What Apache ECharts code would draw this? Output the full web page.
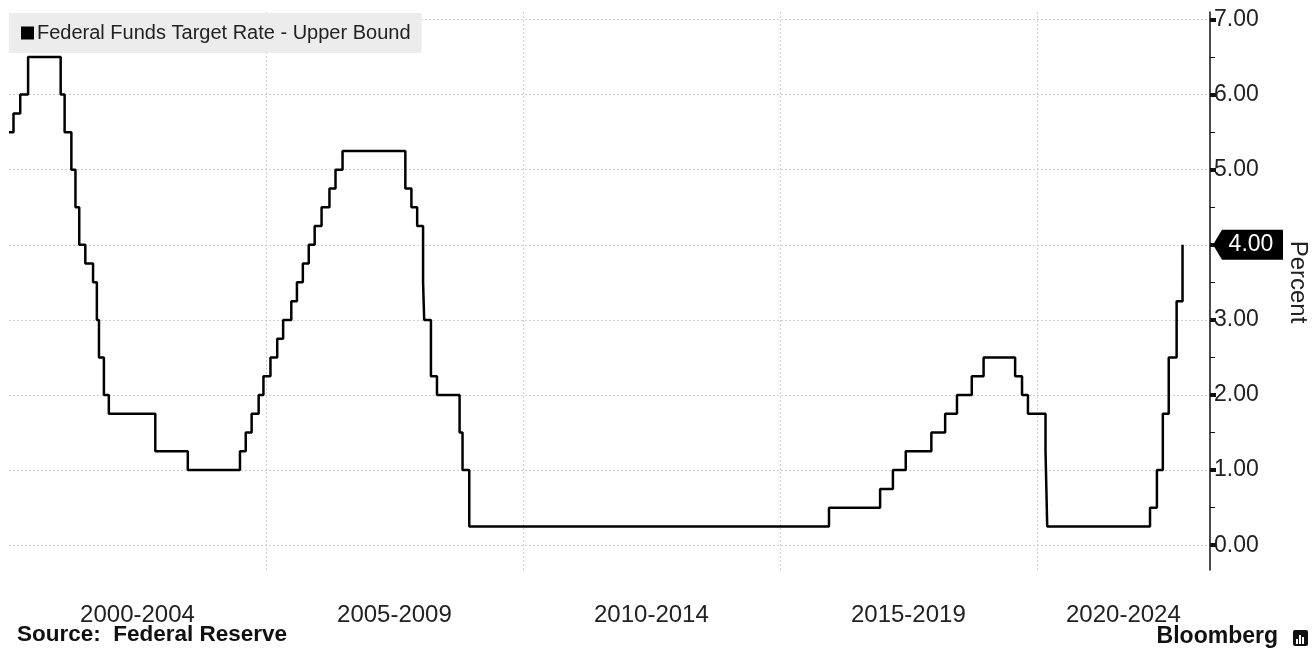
<!DOCTYPE html>
<html>
<head>
	<meta charset="utf-8">
	<title>Federal Funds Target Rate</title>
	<script src="https://cdn.jsdelivr.net/npm/echarts@6/dist/echarts.min.js"></script>
	<style type="text/css">
		html, body { margin: 0; padding: 0; background: #fff; }
		#chartContainer { width: 1312px; height: 652px; }
	</style>
</head>
<body>
	<div id="chartContainer"></div>
	<script type="text/javascript">
		// dates where the upper bound changed, and the rate from that date on
		var changeDates = [
			'2000-01-01', '2000-02-02', '2000-03-21', '2000-05-16',
			'2001-01-03', '2001-01-31', '2001-03-20', '2001-04-18', '2001-05-15',
			'2001-06-27', '2001-08-21', '2001-09-17', '2001-10-02', '2001-11-06',
			'2001-12-11', '2002-11-06', '2003-06-25',
			'2004-06-30', '2004-08-10', '2004-09-21', '2004-11-10', '2004-12-14',
			'2005-02-02', '2005-03-22', '2005-05-03', '2005-06-30', '2005-08-09',
			'2005-09-20', '2005-11-01', '2005-12-13', '2006-01-31', '2006-03-28',
			'2006-05-10', '2006-06-29',
			'2007-09-18', '2007-10-31', '2007-12-11', '2008-01-22', '2008-01-30',
			'2008-03-18', '2008-04-30', '2008-10-08', '2008-10-29', '2008-12-16',
			'2015-12-16', '2016-12-14', '2017-03-15', '2017-06-14', '2017-12-13',
			'2018-03-21', '2018-06-13', '2018-09-26', '2018-12-19',
			'2019-07-31', '2019-09-18', '2019-10-30', '2020-03-03', '2020-03-15',
			'2022-03-16', '2022-05-04', '2022-06-15', '2022-07-27', '2022-09-21',
			'2022-11-02'
		];
		var upperBound = [
			5.50, 5.75, 6.00, 6.50,
			6.00, 5.50, 5.00, 4.50, 4.00,
			3.75, 3.50, 3.00, 2.50, 2.00,
			1.75, 1.25, 1.00,
			1.25, 1.50, 1.75, 2.00, 2.25,
			2.50, 2.75, 3.00, 3.25, 3.50,
			3.75, 4.00, 4.25, 4.50, 4.75,
			5.00, 5.25,
			4.75, 4.50, 4.25, 3.50, 3.00,
			2.25, 2.00, 1.50, 1.00, 0.25,
			0.50, 0.75, 1.00, 1.25, 1.50,
			1.75, 2.00, 2.25, 2.50,
			2.25, 2.00, 1.75, 1.25, 0.25,
			0.50, 1.00, 1.75, 2.50, 3.25,
			4.00
		];
		var bandLabels = ['2000-2004', '2005-2009', '2010-2014', '2015-2019', '2020-2024'];
		var bandStarts = [2000, 2005, 2010, 2015, 2020];
		var yLabelValues = [0, 1, 2, 3, 4, 5, 6, 7];
		var yMinorValues = [0.5, 1.5, 2.5, 3.5, 4.5, 5.5, 6.5];

		var xMin = 2000, xMax = 2023.37;
		var yMin = -0.33, yMax = 7.1;

		function toYear(s) {
			var d = new Date(s + 'T00:00:00Z');
			var y = d.getUTCFullYear();
			var a = Date.UTC(y, 0, 1), b = Date.UTC(y + 1, 0, 1);
			return y + (d.getTime() - a) / (b - a);
		}

		var lineData = changeDates.map(function (s, i) { return [toYear(s), upperBound[i]]; });
		var bandCenters = bandStarts.map(function (s) { return (s + Math.min(s + 5, xMax)) / 2; });
		var lastRate = upperBound[upperBound.length - 1];
		var FONT = 'Liberation Sans';

		var myChart = echarts.init(document.getElementById('chartContainer'));
		var option = {
			backgroundColor: '#ffffff',
			animation: false,
			textStyle: { fontFamily: FONT },
			title: [
				{
					text: 'Source:  Federal Reserve',
					left: 12, bottom: 1,
					textStyle: { fontSize: 22.5, fontWeight: 'bold', color: '#111', fontFamily: FONT }
				},
				{
					text: 'Bloomberg',
					right: 29, bottom: -1,
					textStyle: { fontSize: 23, fontWeight: 'bold', color: '#111', fontFamily: FONT }
				}
			],
			graphic: [
				{ type: 'rect', left: 1293, top: 630, shape: { width: 15, height: 16, r: 2 }, style: { fill: '#111' } },
				{ type: 'rect', left: 1296, top: 639, shape: { width: 2, height: 5 }, style: { fill: '#fff' } },
				{ type: 'rect', left: 1299, top: 635, shape: { width: 2, height: 9 }, style: { fill: '#fff' } },
				{ type: 'rect', left: 1302, top: 637, shape: { width: 2, height: 7 }, style: { fill: '#fff' } }
			],
			legend: {
				left: 9, top: 13,
				backgroundColor: '#ececec',
				padding: [10, 11, 10, 12],
				icon: 'rect',
				itemWidth: 13, itemHeight: 13, itemGap: 4,
				textStyle: { fontSize: 20, color: '#222', fontFamily: FONT, padding: [0, 0, 0, -2] },
				data: ['Federal Funds Target Rate - Upper Bound']
			},
			grid: { left: 9, right: 102, top: 12, bottom: 82, outerBoundsMode: 'none', containLabel: false },
			xAxis: [
				{
					type: 'value', min: xMin, max: xMax, interval: 5,
					position: 'bottom',
					axisLine: { show: false }, axisTick: { show: false }, axisLabel: { show: false },
					splitLine: { show: true, showMinLine: false, showMaxLine: false, lineStyle: { color: '#cfcfcf', type: [2, 2], width: 1 } }
				},
				{
					type: 'value', min: xMin, max: xMax,
					position: 'bottom',
					axisLine: { show: false }, axisTick: { show: false }, splitLine: { show: false },
					axisLabel: {
						customValues: bandCenters,
						margin: 33,
						fontSize: 24, color: '#222', fontFamily: FONT,
						formatter: function (v) {
							for (var i = 0; i < bandCenters.length; i++) {
								if (Math.abs(bandCenters[i] - v) < 0.01) return bandLabels[i];
							}
							return '';
						}
					}
				}
			],
			yAxis: [
				{
					type: 'value', min: yMin, max: yMax, position: 'right',
					name: 'Percent', nameLocation: 'middle', nameRotate: -90, nameGap: 76,
					nameTextStyle: { fontSize: 24, color: '#222', fontFamily: FONT, padding: [0, 18, 0, 0] },
					axisLine: { show: true, lineStyle: { color: '#111', width: 1.5 } },
					axisTick: { show: true, customValues: yLabelValues, length: 6, inside: false, lineStyle: { color: '#111', width: 4 } },
					axisLabel: {
						customValues: yLabelValues, margin: 4,
						fontSize: 23, color: '#222', fontFamily: FONT,
						formatter: function (v) { return v.toFixed(2); }
					},
					splitLine: { show: true, lineStyle: { color: '#cfcfcf', type: [2, 2], width: 1 } }
				},
				{
					type: 'value', min: yMin, max: yMax, position: 'right',
					axisLine: { show: false },
					axisTick: { show: true, customValues: yMinorValues, length: 5, inside: false, lineStyle: { color: '#111', width: 1 } },
					axisLabel: { show: false },
					splitLine: { show: false }
				}
			],
			series: [
				{
					name: 'Federal Funds Target Rate - Upper Bound',
					type: 'line',
					step: 'end',
					xAxisIndex: 0, yAxisIndex: 0,
					showSymbol: false, symbol: 'none',
					color: '#000',
					lineStyle: { color: '#000', width: 2.5 },
					data: lineData,
					markPoint: {
						silent: true,
						symbol: 'path://M0,15 L9,0 L70,0 L70,30 L9,30 Z',
						symbolSize: [70, 30],
						symbolOffset: [38, 0],
						symbolKeepAspect: false,
						itemStyle: { color: '#000' },
						label: {
							show: true, position: 'inside', offset: [3, 0],
							color: '#fff', fontSize: 23, fontFamily: FONT,
							formatter: function () { return lastRate.toFixed(2); }
						},
						data: [{ coord: [xMax, lastRate] }]
					}
				}
			]
		};
		myChart.setOption(option);
	</script>
</body>
</html>
